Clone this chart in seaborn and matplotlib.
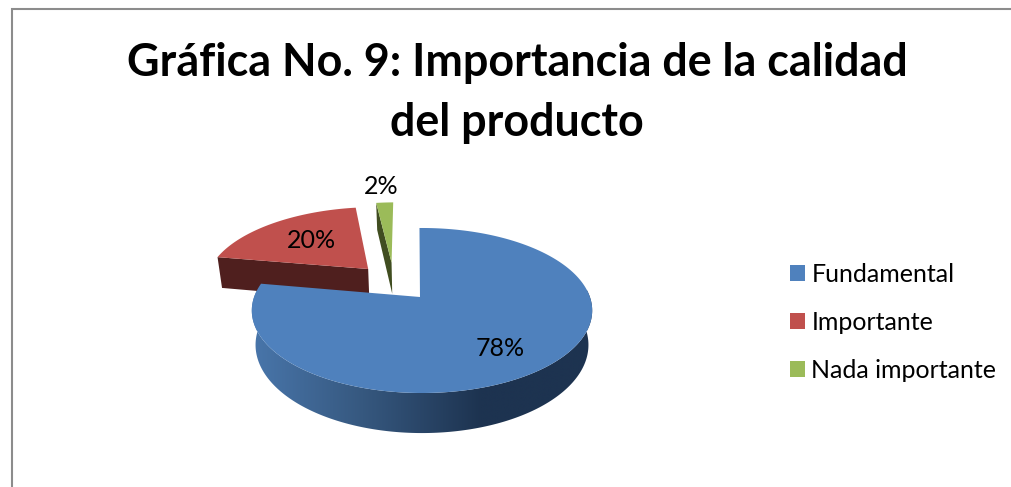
import numpy as np
import matplotlib
matplotlib.use("Agg")
import matplotlib.pyplot as plt
from matplotlib.patches import Patch, Polygon
import seaborn as sns

# Chart content
title_lines = ["Gráfica No. 9: Importancia de la calidad", "del producto"]
categories = ["Fundamental", "Importante", "Nada importante"]
shares = [78, 20, 2]

top_colors = ["#4F81BD", "#C0504D", "#9BBB59"]
cut_colors = ["#1F3550", "#4F1F1E", "#404D20"]
wall_ramp = ["#4A78AE", "#36587F", "#1D3350", "#1D3350"]

# Pull-out of each slice on the unit disc (across, depth)
explode = [(0.0, 0.0), (-0.34, -0.37), (-0.195, -0.46)]
label_pos = [(500, 349), (311.5, 240), (381, 186)]

sns.set_theme(style="white")
plt.rcParams["font.family"] = ["Lato", "DejaVu Sans"]

fig = plt.figure(figsize=(10.11, 4.87), dpi=100)
ax = fig.add_axes([0, 0, 1, 1])

# Perspective view of the disc: screen position of (u, v), optionally on the lower rim
CX, CY, SX, SY, TILT, RIM, SHRINK = 422.0, 297.0, 167.9, 80.3, -0.1636, 33.5, 0.978
FIRST_ANGLE = np.deg2rad(-1.0)
APEX_SHIFT = -0.012


def project(u, v, lower=False):
    w = 1 + TILT * v
    x = CX + SX * u / w
    y = CY + SY * v / w
    if lower:
        x = CX + (x - CX) * SHRINK
        y = y + RIM / w
    return x, y


def rim_point(theta, offset):
    return offset[0] + np.sin(theta), offset[1] - np.cos(theta)


# Slice angles clockwise from twelve o'clock
edges = FIRST_ANGLE + 2 * np.pi * np.cumsum([0] + shares) / sum(shares)
wall_cmap = sns.blend_palette(wall_ramp, 256, as_cmap=True)


def draw_slice(i):
    start, stop, offset = edges[i], edges[i + 1], explode[i]
    thetas = np.linspace(start, stop, 360)
    rim_u, rim_v = rim_point(thetas, offset)
    apex = (offset[0] + APEX_SHIFT, offset[1]) if i == 0 else offset

    # Flat cut face running from the slice's first rim corner back to the apex
    if i > 0:
        cu, cv = rim_point(start, offset)
        a, b = project(cu, cv), project(*apex)
        c, d = project(*apex, lower=True), project(cu, cv, lower=True)
        ax.fill(*zip(a, b, c, d), color=cut_colors[i], lw=0)

    # Outer wall of the large slice, shaded left to right
    if i == 0:
        front = rim_v > -0.3
        tx, ty = project(rim_u[front], rim_v[front])
        bx, by = project(rim_u[front], rim_v[front], lower=True)
        outline = np.column_stack([np.r_[tx, bx[::-1]], np.r_[ty, by[::-1]]])
        clip = Polygon(outline, transform=ax.transData, fc="none", ec="none")
        ax.add_patch(clip)
        shade = ax.imshow(np.linspace(0, 1, 512)[None, :], cmap=wall_cmap, aspect="auto",
                          extent=(244, 600, 440, 290), interpolation="bilinear")
        shade.set_clip_path(clip)

    # Top face
    fx, fy = project(np.r_[apex[0], rim_u], np.r_[apex[1], rim_v])
    ax.fill(fx, fy, color=top_colors[i], lw=0)


# Far slices first so the large slice overlaps them
draw_slice(1)
draw_slice(2)
draw_slice(0)

ax.set_xlim(0, 1011)
ax.set_ylim(487, 0)
ax.set_aspect("auto")
ax.axis("off")

# Value labels
for value, (lx, ly) in zip(shares, label_pos):
    ax.text(lx, ly, f"{value}%", ha="center", va="center", fontsize=18, color="black")

# Chart frame
ax.plot([11.5, 11.5, 1011], [487, 9, 9], color="#8C8C8C", lw=1.5, solid_joinstyle="miter")

# Title
ax.text(517, 63.5, title_lines[0], ha="center", va="center", fontsize=32.3, fontweight="bold", color="black")
ax.text(517, 122.5, title_lines[1], ha="center", va="center", fontsize=32.3, fontweight="bold", color="black")

# Legend
handles = [Patch(facecolor=c, edgecolor="none", label=n) for c, n in zip(top_colors, categories)]
ax.legend(handles=handles, loc="upper left", bbox_to_anchor=(790, 263), bbox_transform=ax.transData,
          frameon=False, fontsize=18, handlelength=0.6, handleheight=0.6, handletextpad=0.25,
          labelspacing=0.99, borderpad=0, borderaxespad=0, labelcolor="black")

fig.savefig("out.png", dpi=100, facecolor="white")
